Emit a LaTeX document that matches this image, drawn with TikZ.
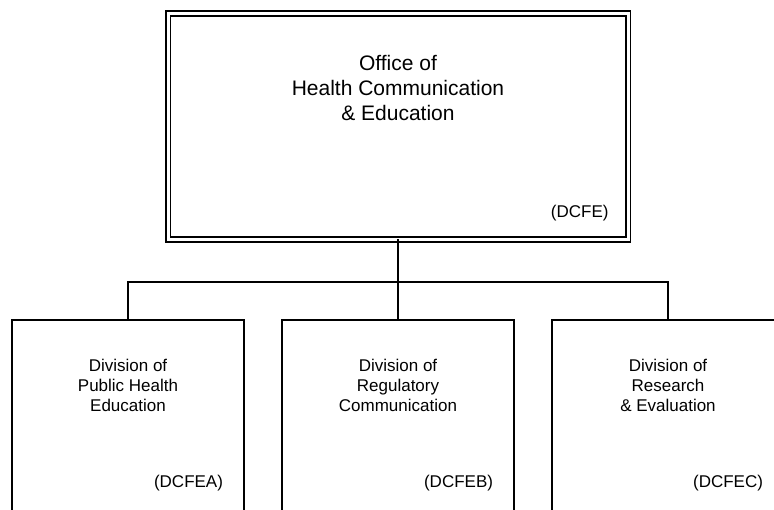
\documentclass[tikz,border=0pt]{standalone}
\usepackage{fontspec}
\setmainfont{Liberation Sans}
\usetikzlibrary{trees}

\begin{document}
\begin{tikzpicture}[x=1pt,y=1pt,line width=2pt,
	office/.style={rectangle,draw,double,double distance=3pt,line width=1.8pt,minimum width=460pt,minimum height=226pt,outer sep=0pt},
	division/.style={rectangle,draw,minimum width=232pt,minimum height=240pt,outer sep=0pt,anchor=north},
	title/.style={align=center,inner sep=0pt,font=\fontsize{17}{20}\selectfont},
	code/.style={anchor=east,inner sep=0pt,font=\fontsize{17}{20}\selectfont},
	level distance=193.5pt,sibling distance=270pt,
	edge from parent/.style={draw,line width=2pt},
	edge from parent path={(\tikzparentnode.south) -- +(0,-42.5pt) -| (\tikzchildnode.north)}]
	\useasboundingbox (0,0) rectangle (774,510);
	\clip (0,0) rectangle (774,510);
	\node [office] (office) at (398,383.5) {}
		child {node [division] (pubhealth) {}}
		child {node [division] (regcomm) {}}
		child {node [division] (research) {}};
	% texts inside the boxes
	\node [title,font=\fontsize{21}{25}\selectfont] (officename) at ([yshift=-74.5pt]office.north) {Office of\\Health Communication\\\& Education};
	\node [code] (officecode) at ([xshift=-18.5pt,yshift=26.5pt]office.south east) {(DCFE)};
	\node [title] (pubhealthname) at ([yshift=-65pt]pubhealth.north) {Division of\\Public Health\\Education};
	\node [title] (regcommname) at ([yshift=-65pt]regcomm.north) {Division of\\Regulatory\\Communication};
	\node [title] (researchname) at ([yshift=-65pt]research.north) {Division of\\Research\\\& Evaluation};
	\node [code] (pubhealthcode) at ([xshift=-20pt,yshift=-163pt]pubhealth.north east) {(DCFEA)};
	\node [code] (regcommcode) at ([xshift=-20pt,yshift=-163pt]regcomm.north east) {(DCFEB)};
	\node [code] (researchcode) at ([xshift=-20pt,yshift=-163pt]research.north east) {(DCFEC)};
\end{tikzpicture}
\end{document}
